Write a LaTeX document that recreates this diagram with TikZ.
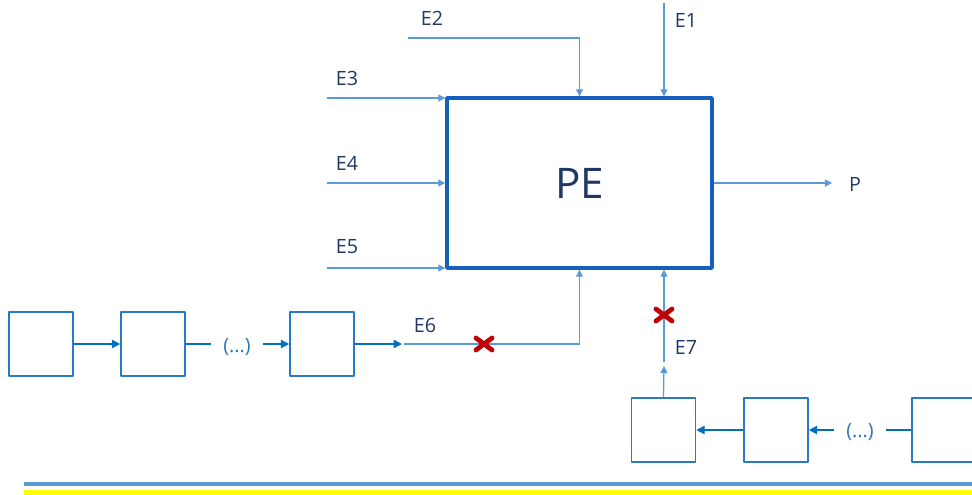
\documentclass[tikz,border=0pt]{standalone}
\usepackage{fontspec}
\setmainfont{Open Sans}
\usetikzlibrary{arrows.meta,calc}
\definecolor{cpe}{RGB}{21,96,189}
\definecolor{clin}{RGB}{91,155,213}
\definecolor{cblk}{RGB}{40,122,200}
\definecolor{carr}{RGB}{0,112,192}
\definecolor{cnavy}{RGB}{31,56,100}
\definecolor{cdots}{RGB}{46,117,182}
\definecolor{cred}{RGB}{192,0,0}
\definecolor{cgeel}{RGB}{255,255,0}
\tikzset{
	pe/.style={draw=cpe, line width=2.4pt, minimum width=6.625cm, minimum height=4.25cm, text=cnavy, font=\fontsize{30}{30}\selectfont},
	blk/.style={draw=cblk, line width=1.1pt, minimum width=1.6cm, minimum height=1.6cm, inner sep=0pt},
	lin/.style={draw=clin, line width=0.9pt},
	arr/.style={lin, -{Triangle[length=5pt,width=5pt]}},
	chain/.style={draw=carr, line width=1pt},
	chainarr/.style={chain, -{Triangle[length=6pt,width=6pt]}},
	lab/.style={text=cnavy, font=\fontsize{14}{14}\selectfont, inner sep=0pt},
	dots/.style={text=cdots, font=\fontsize{14}{14}\selectfont, inner ysep=0pt, inner xsep=0.3cm},
	kruis/.pic={\draw[cred, line width=3.4pt, line cap=round] (-8,-6)--(8,6) (-8,6)--(8,-6);}
}
\begin{document}
\begin{tikzpicture}[x=0.025cm, y=-0.025cm, line join=round]
	\useasboundingbox (0,0) rectangle (972,494);
	\node[pe] (pe) at (579.5,183) {PE};
	% ingangen
	\coordinate (e1s) at (664,3);
	\coordinate (e2s) at (408,38);
	\coordinate (e3s) at (327,98);
	\coordinate (e4s) at (327,183);
	\coordinate (e5s) at (327,268);
	\coordinate (pout) at (832,183);
	\draw[arr] (e1s) -- (e1s |- pe.north);
	\draw[arr] (e2s) -| (pe.north);
	\draw[arr] (e3s) -- (e3s -| pe.west);
	\draw[arr] (e4s) -- (pe.west);
	\draw[arr] (e5s) -- (e5s -| pe.west);
	\draw[arr] (pe.east) -- (pout);
	\node[lab] (le1) at (686,20) {E1};
	\node[lab] (le2) at (432,18) {E2};
	\node[lab] (le3) at (347,78) {E3};
	\node[lab] (le4) at (347,163) {E4};
	\node[lab] (le5) at (347,247) {E5};
	\node[lab] (lp) at (855,184) {P};
	% keten links
	\node[blk] (b1) at (41,344) {};
	\node[blk] (b2) at (153,344) {};
	\node[dots] (dl) at (237,347) {(...)};
	\node[blk] (b3) at (322,344) {};
	\coordinate (e6a) at (402,344);
	\coordinate (e6b) at (404,344);
	\draw[chainarr] (b1) -- (b2);
	\draw[chain] (b2.east) -- (b2.east -| dl.west);
	\draw[chainarr] (b3.west -| dl.east) -- (b3.west);
	\draw[chainarr] (b3.east) -- (e6a);
	\draw[arr] (e6b) -| (pe.south);
	\node[lab] (le6) at (425,325) {E6};
	\pic at (484,344) {kruis};
	% keten rechts
	\node[blk] (r1) at (663.5,430) {};
	\node[blk] (r2) at (776,430) {};
	\node[dots] (dr) at (860,432) {(...)};
	\node[blk] (r3) at (944,430) {};
	\coordinate (e7a) at (664,366);
	\coordinate (e7b) at (664,362);
	\draw[chainarr] (r2) -- (r1);
	\draw[chainarr] (r2.east -| dr.west) -- (r2.east);
	\draw[chain] (r3.west) -- (r3.west -| dr.east);
	\draw[arr] (r1.north) -- (e7a);
	\draw[arr] (e7b) -- (e7b |- pe.south);
	\node[lab] (le7) at (686,347) {E7};
	\pic at (664,315) {kruis};
	% onderrand
	\draw[clin, line width=3.4pt] (24,484) -- (972,484);
	\draw[cgeel, line width=3.4pt] (24,492.5) -- (972,492.5);
\end{tikzpicture}
\end{document}
